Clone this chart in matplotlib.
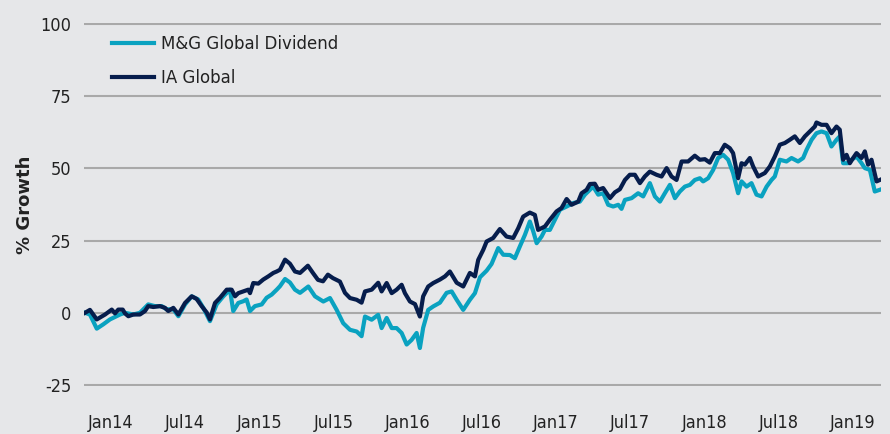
import matplotlib
matplotlib.use("Agg")
import matplotlib.pyplot as plt

# ---- data (time as decimal years, values = % growth) ----
ia_dates = [2013.825, 2013.858, 2013.904, 2013.960, 2014.005, 2014.027, 2014.049, 2014.079, 2014.094, 2014.117,
            2014.150, 2014.195, 2014.229, 2014.251, 2014.285, 2014.330, 2014.364, 2014.386, 2014.420, 2014.454,
            2014.499, 2014.544, 2014.577, 2014.611, 2014.645, 2014.667, 2014.701, 2014.735, 2014.780, 2014.813,
            2014.836, 2014.858, 2014.892, 2014.925, 2014.937, 2014.959, 2014.993, 2015.026, 2015.060, 2015.094,
            2015.117, 2015.139, 2015.173, 2015.206, 2015.240, 2015.274, 2015.327, 2015.361, 2015.395, 2015.429,
            2015.462, 2015.496, 2015.543, 2015.577, 2015.611, 2015.656, 2015.689, 2015.712, 2015.757, 2015.801,
            2015.824, 2015.858, 2015.892, 2015.925, 2015.959, 2015.981, 2016.015, 2016.049, 2016.082, 2016.104,
            2016.138, 2016.172, 2016.217, 2016.251, 2016.284, 2016.330, 2016.374, 2016.419, 2016.453, 2016.475,
            2016.509, 2016.532, 2016.576, 2016.621, 2016.666, 2016.711, 2016.745, 2016.778, 2016.823, 2016.857,
            2016.879, 2016.925, 2016.958, 2017.003, 2017.037, 2017.071, 2017.104, 2017.149, 2017.172, 2017.206,
            2017.228, 2017.261, 2017.284, 2017.317, 2017.363, 2017.396, 2017.430, 2017.464, 2017.497, 2017.531,
            2017.565, 2017.598, 2017.632, 2017.677, 2017.711, 2017.745, 2017.778, 2017.812, 2017.846, 2017.890,
            2017.935, 2017.969, 2018.003, 2018.036, 2018.070, 2018.104, 2018.137, 2018.171, 2018.193, 2018.227,
            2018.250, 2018.272, 2018.306, 2018.328, 2018.362, 2018.407, 2018.441, 2018.474, 2018.508, 2018.542,
            2018.575, 2018.609, 2018.643, 2018.677, 2018.710, 2018.744, 2018.755, 2018.789, 2018.823, 2018.856,
            2018.890, 2018.912, 2018.935, 2018.958, 2018.980, 2019.002, 2019.025, 2019.059, 2019.081, 2019.103,
            2019.126, 2019.160, 2019.182]
ia_values = [0.0, 1.0, -2.3, -0.6, 1.1, -0.2, 1.1, 1.1, -0.2, -1.2,
             -0.6, -0.6, 0.6, 2.3, 2.0, 2.3, 1.7, 0.6, 1.7, -0.6,
             3.4, 5.7, 4.8, 2.3, 0.1, -2.3, 3.4, 5.2, 8.0, 8.0,
             5.7, 6.8, 7.4, 8.0, 6.8, 10.3, 10.1, 11.5, 12.6, 13.8,
             14.3, 14.9, 18.4, 17.0, 14.3, 13.8, 16.3, 13.8, 11.4, 10.9,
             13.2, 12.0, 10.8, 6.9, 5.1, 4.5, 3.5, 7.4, 8.0, 10.4,
             7.4, 10.3, 6.8, 8.0, 9.7, 6.8, 3.9, 3.0, -1.3, 5.7,
             9.1, 10.3, 11.5, 12.6, 14.3, 10.4, 9.1, 13.8, 12.6, 18.3,
             21.8, 24.7, 25.9, 29.0, 26.4, 25.9, 29.3, 33.3, 34.7, 33.9,
             28.7, 29.9, 32.2, 35.1, 36.3, 39.4, 37.4, 38.5, 41.4, 42.6,
             44.6, 44.7, 42.6, 43.2, 39.7, 41.7, 42.8, 46.0, 47.8, 47.8,
             44.9, 47.2, 48.9, 47.8, 47.2, 50.1, 47.2, 46.0, 52.4, 52.4,
             54.4, 53.0, 53.2, 52.0, 55.3, 55.3, 58.2, 57.0, 55.3, 46.6,
             51.8, 51.3, 53.6, 50.7, 47.2, 48.4, 50.7, 54.1, 58.2, 58.8,
             59.9, 61.1, 58.8, 61.1, 62.8, 64.5, 65.9, 65.1, 65.1, 62.2,
             64.5, 63.4, 53.0, 54.7, 51.8, 53.6, 55.3, 53.6, 55.9, 51.3,
             53.0, 45.5, 46.0]

mg_dates = [2013.825, 2013.858, 2013.904, 2013.948, 2013.993, 2014.038, 2014.061, 2014.094, 2014.150, 2014.195,
            2014.251, 2014.296, 2014.342, 2014.375, 2014.420, 2014.454, 2014.499, 2014.544, 2014.588, 2014.622,
            2014.667, 2014.712, 2014.757, 2014.802, 2014.824, 2014.858, 2014.892, 2014.914, 2014.937, 2014.970,
            2015.016, 2015.049, 2015.083, 2015.117, 2015.139, 2015.173, 2015.206, 2015.240, 2015.274, 2015.330,
            2015.375, 2015.431, 2015.476, 2015.521, 2015.565, 2015.611, 2015.656, 2015.689, 2015.712, 2015.757,
            2015.801, 2015.824, 2015.858, 2015.892, 2015.925, 2015.959, 2015.993, 2016.026, 2016.060, 2016.082,
            2016.104, 2016.138, 2016.172, 2016.217, 2016.262, 2016.296, 2016.330, 2016.374, 2016.419, 2016.453,
            2016.487, 2016.532, 2016.565, 2016.610, 2016.644, 2016.689, 2016.722, 2016.756, 2016.790, 2016.823,
            2016.846, 2016.869, 2016.902, 2016.925, 2016.958, 2016.992, 2017.026, 2017.071, 2017.115, 2017.160,
            2017.194, 2017.228, 2017.250, 2017.284, 2017.317, 2017.351, 2017.385, 2017.419, 2017.441, 2017.464,
            2017.509, 2017.553, 2017.587, 2017.632, 2017.666, 2017.700, 2017.733, 2017.767, 2017.801, 2017.834,
            2017.868, 2017.902, 2017.935, 2017.969, 2017.991, 2018.025, 2018.059, 2018.092, 2018.126, 2018.160,
            2018.193, 2018.227, 2018.250, 2018.284, 2018.317, 2018.351, 2018.385, 2018.419, 2018.452, 2018.474,
            2018.508, 2018.553, 2018.587, 2018.631, 2018.665, 2018.688, 2018.722, 2018.755, 2018.789, 2018.823,
            2018.856, 2018.890, 2018.912, 2018.935, 2018.968, 2018.991, 2019.025, 2019.059, 2019.081, 2019.115,
            2019.148, 2019.182]
mg_values = [0.0, -0.6, -5.5, -4.0, -2.3, -1.2, -0.6, 0.0, -0.6, 0.0,
             2.9, 2.3, 2.3, 1.2, 1.2, -1.2, 2.9, 5.7, 4.6, 1.7,
             -2.9, 2.9, 5.7, 8.0, 0.6, 3.4, 4.0, 4.6, 0.6, 2.3,
             2.9, 5.2, 6.3, 8.0, 9.2, 11.7, 10.5, 8.0, 6.9, 9.1,
             5.7, 3.9, 5.1, 1.0, -3.6, -5.9, -6.5, -8.1, -1.3, -2.4,
             -0.7, -5.3, -1.8, -5.3, -5.3, -7.0, -11.0, -9.4, -7.0, -12.2,
             -5.2, 1.0, 2.2, 3.5, 6.9, 7.4, 4.5, 1.0, 4.5, 6.8,
             12.3, 14.6, 16.9, 22.4, 20.1, 20.0, 18.9, 23.0, 27.0, 31.6,
             28.2, 24.1, 26.4, 28.7, 28.7, 32.2, 35.7, 36.8, 38.0, 38.5,
             40.9, 42.6, 43.7, 40.9, 41.4, 37.4, 36.8, 37.4, 36.0, 39.1,
             39.7, 41.4, 40.3, 44.9, 40.3, 38.5, 41.4, 44.3, 39.7, 42.0,
             43.7, 44.3, 46.0, 46.6, 45.5, 46.6, 49.5, 53.6, 54.7, 53.0,
             48.4, 41.4, 45.5, 43.7, 44.9, 40.9, 40.3, 43.7, 46.0, 47.2,
             53.0, 52.4, 53.6, 52.4, 53.6, 56.4, 59.9, 62.2, 62.8, 62.2,
             57.6, 59.9, 61.1, 51.8, 51.8, 53.0, 54.1, 51.8, 50.1, 49.5,
             42.0, 42.6]

x_ticks = [2014.0, 2014.5, 2015.0, 2015.5, 2016.0, 2016.5, 2017.0, 2017.5, 2018.0, 2018.5, 2019.0]
x_labels = ["Jan14", "Jul14", "Jan15", "Jul15", "Jan16", "Jul16", "Jan17", "Jul17", "Jan18", "Jul18", "Jan19"]
y_ticks = [-25, 0, 25, 50, 75, 100]

series_names = ["M&G Global Dividend", "IA Global"]
colors = ["#0aa2c0", "#061d4c"]
BG = "#e6e7e9"

plt.rcParams['font.family'] = ['DejaVu Sans']

fig = plt.figure(figsize=(8.9, 4.34), dpi=100, facecolor=BG)
ax = fig.add_axes([84 / 890, 1 - 386.4 / 434, (881 - 84) / 890, (386.4 - 22.6) / 434])
ax.set_facecolor(BG)

l_mg, = ax.plot(mg_dates, mg_values, color=colors[0], lw=3.0, solid_joinstyle='round', zorder=3)
l_ia, = ax.plot(ia_dates, ia_values, color=colors[1], lw=3.0, solid_joinstyle='round', zorder=4)

ax.set_xlim(2013.818, 2019.19)
ax.set_ylim(-25.5, 100.5)
ax.set_yticks(y_ticks)
ax.set_yticklabels([str(v) for v in y_ticks], fontsize=13, color="#222222", fontstretch='condensed')
ax.set_xticks(x_ticks)
ax.set_xticklabels(x_labels, fontsize=13, color="#222222", fontstretch='condensed')
ax.tick_params(axis='both', length=0)
ax.tick_params(axis='y', pad=9)
ax.tick_params(axis='x', pad=20)
ax.grid(axis='y', color="#a9a9a9", lw=1.5)
ax.set_axisbelow(True)
for s in ax.spines.values():
    s.set_visible(False)

ax.set_ylabel("% Growth", fontsize=13, fontweight='bold', color="#222222", labelpad=5)

leg = ax.legend([l_mg, l_ia], series_names, loc='upper left', bbox_to_anchor=(0.027, 0.984),
                frameon=False, fontsize=12, handlelength=2.5, handletextpad=0.4,
                labelspacing=0.95, borderaxespad=0)
for t in leg.get_texts():
    t.set_color("#222222")

fig.savefig("out.png", dpi=100, facecolor=BG)
